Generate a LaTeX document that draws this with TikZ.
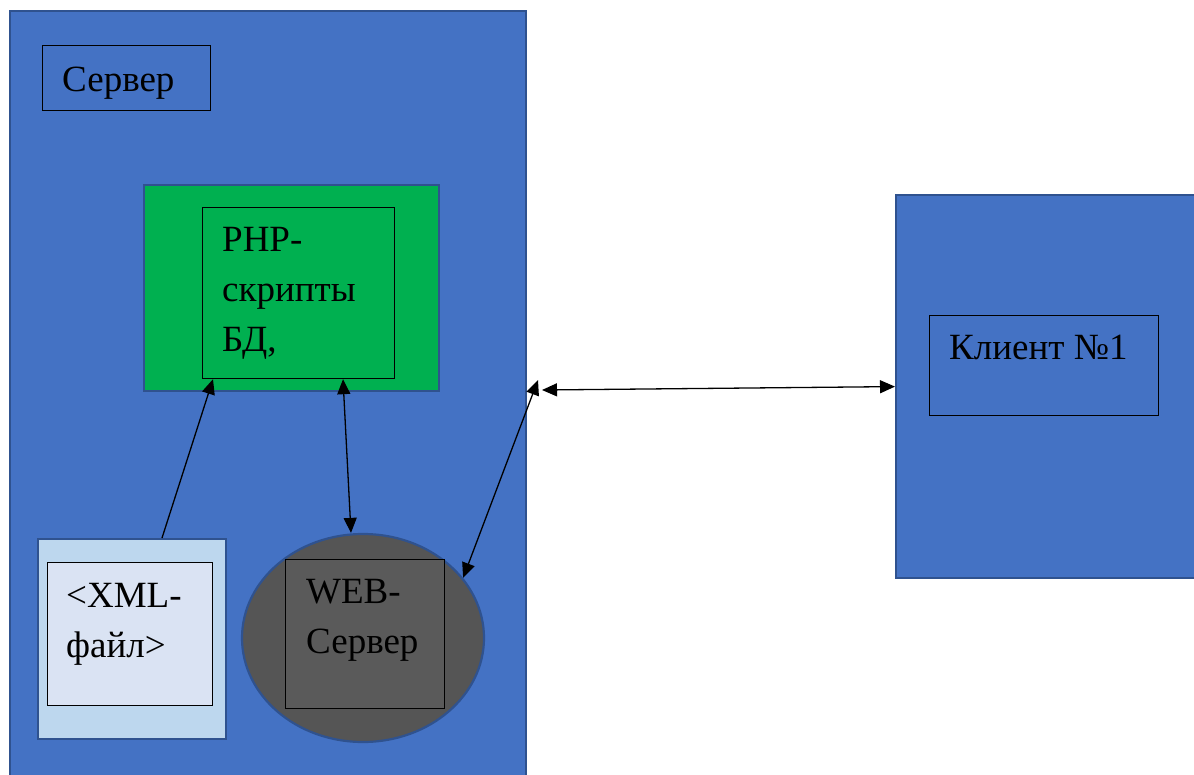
\documentclass[tikz,border=0pt]{standalone}
\usepackage{fontspec}
\setmainfont{LiberationSerif-Regular.ttf}
\usetikzlibrary{arrows.meta,calc,shapes.geometric}
\definecolor{bluefill}{HTML}{4472C4}
\definecolor{blueline}{HTML}{2F528F}
\definecolor{greenfill}{HTML}{00B050}
\definecolor{lightblue}{HTML}{BDD7EE}
\definecolor{paleblue}{HTML}{DAE3F3}
\definecolor{darkgray}{HTML}{555555}
\definecolor{midgray}{HTML}{5A5A5A}
\tikzset{
  panel/.style={draw=blueline, line width=2.2pt, fill=#1, rectangle, inner sep=0pt, anchor=north west},
  framebox/.style={draw=black, line width=1.2pt, fill=#1, rectangle, inner sep=0pt, anchor=north west},
  lbl/.style={font=\fontsize{37}{50}\selectfont, inner sep=0pt, anchor=base west, align=left},
  link/.style={line width=1.3pt, {Triangle[length=15pt,width=13pt]}-{Triangle[length=15pt,width=13pt]}},
  onelink/.style={line width=1.3pt, -{Triangle[length=15pt,width=13pt]}}
}
\begin{document}
\begin{tikzpicture}[x=1pt,y=-1pt]
\useasboundingbox (0,0) rectangle (1194,775);
% server panel
\node[panel=bluefill, minimum width=516, minimum height=780] (server) at (9,10) {};
\node[framebox=bluefill, minimum width=168, minimum height=65] (srvlbl) at (42,45) {};
\node[lbl] (srvtext) at (62,92) {Сервер};
% green block
\node[panel=greenfill, minimum width=295, minimum height=206] (green) at (143,184) {};
\node[framebox=greenfill, minimum width=192, minimum height=171] (php) at (202,207) {};
\node[lbl] (phptext) at (222,352) {PHP-\\скрипты\\БД,};
% XML
\node[panel=lightblue, minimum width=188, minimum height=200] (xmlout) at (37,538) {};
\node[framebox=paleblue, minimum width=165, minimum height=143] (xml) at (47,562) {};
\node[lbl] (xmltext) at (66,657) {<XML-\\файл>};
% web server
\node[ellipse, draw=blueline, line width=2.2pt, fill=darkgray, minimum width=242, minimum height=208, inner sep=0pt] (web) at (363,638) {};
\node[framebox=midgray, minimum width=159, minimum height=149] (webbox) at (285,559) {};
\node[lbl] (webtext) at (306,653) {WEB-\\Сервер};
% client
\node[panel=bluefill, minimum width=320, minimum height=383] (client) at (895,194) {};
\node[framebox=bluefill, minimum width=229, minimum height=100] (clbl) at (929,315) {};
\node[lbl] (ctext) at (949,360) {Клиент №1};
% connectors
\coordinate (j1) at (538,380);
\coordinate (j2) at (542,390);
\draw[onelink] ($(xmlout.north west)+(125,0)$) -- ($(php.south west)+(11,0)$);
\draw[link] ($(php.south west)+(141,0)$) -- ($(web.north)+(-12,0)$);
\draw[link] (j1) -- (web.31);
\draw[link] (j2) -- (client.west);
\end{tikzpicture}
\end{document}
